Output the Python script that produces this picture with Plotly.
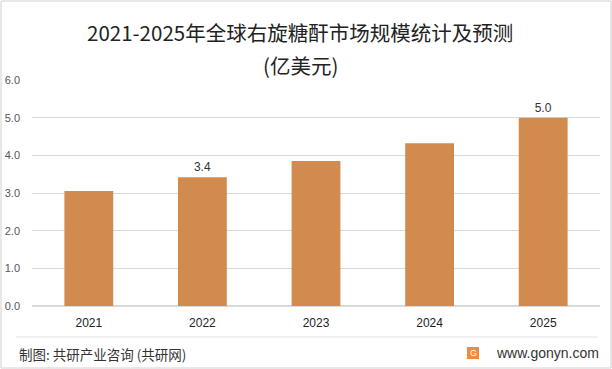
import plotly.graph_objects as go

years = ["2021", "2022", "2023", "2024", "2025"]
values = [3.05, 3.42, 3.85, 4.32, 5.0]
label_years = ["2022", "2025"]
y_ticks = [0, 1, 2, 3, 4, 5, 6]
y_tick_text = ["0.0", "1.0", "2.0", "3.0", "4.0", "5.0", "6.0"]

W, H = 612, 369
ML, MR, MT, MB = 32, 12, 80, 63
FONT = "Noto Sans CJK SC, Noto Sans, sans-serif"

texts = [f"{v:.1f}" if y in label_years else "" for y, v in zip(years, values)]

fig = go.Figure(go.Bar(
    x=years, y=values, marker=dict(color="#D28B4E", line=dict(width=0)),
    text=texts, textposition="outside", cliponaxis=False,
    textfont=dict(size=12, color="#333333", family="Liberation Sans, Arial"),
    width=0.43,
))

def px_x(p):
    return (p - ML) / (W - ML - MR)

def px_y(p):
    return (H - MB - p) / (H - MT - MB)

shapes = [
    dict(type="rect", xref="paper", yref="paper", x0=px_x(1), x1=px_x(W - 1), y0=px_y(H - 1), y1=px_y(1),
         line=dict(color="#d0d0d0", width=1), fillcolor="rgba(0,0,0,0)", layer="below"),
    dict(type="line", xref="paper", yref="paper", x0=px_x(16), x1=px_x(598), y0=px_y(337), y1=px_y(337),
         line=dict(color="#e3e3e3", width=1)),
    dict(type="rect", xref="paper", yref="paper", x0=px_x(467), x1=px_x(479), y0=px_y(359), y1=px_y(347),
         line=dict(width=0), fillcolor="#F08A3C"),
]

annotations = [
    dict(text="2021-2025年全球右旋糖酐市场规模统计及预测", xref="paper", yref="paper",
         x=px_x(300), y=px_y(32), showarrow=False, font=dict(size=20.5, color="#222222", family=FONT),
         xanchor="center", yanchor="middle"),
    dict(text="(亿美元)", xref="paper", yref="paper",
         x=px_x(300), y=px_y(65), showarrow=False, font=dict(size=20.5, color="#222222", family=FONT),
         xanchor="center", yanchor="middle"),
    dict(text="制图: 共研产业咨询 (共研网)", xref="paper", yref="paper",
         x=px_x(17), y=px_y(354), showarrow=False, font=dict(size=13.5, color="#333333", family=FONT),
         xanchor="left", yanchor="middle"),
    dict(text="G", xref="paper", yref="paper",
         x=px_x(473), y=px_y(353), showarrow=False, font=dict(size=9, color="white", family="Liberation Sans"),
         xanchor="center", yanchor="middle"),
    dict(text="www.gonyn.com", xref="paper", yref="paper",
         x=px_x(601), y=px_y(353), showarrow=False, font=dict(size=14, color="#333333", family="Liberation Sans, Arial"),
         xanchor="right", yanchor="middle"),
]

fig.update_layout(
    width=W, height=H, margin=dict(l=ML, r=MR, t=MT, b=MB, autoexpand=False),
    paper_bgcolor="white", plot_bgcolor="white", showlegend=False,
    bargap=0.57, shapes=shapes, annotations=annotations,
    xaxis=dict(type="category", showgrid=False, showline=False, ticks="", automargin=False,
               ticklabelstandoff=8,
               tickfont=dict(size=12, color="#222222", family="Liberation Sans, Arial")),
    yaxis=dict(range=[0, 6], tickvals=y_ticks, ticktext=y_tick_text, showgrid=True, automargin=False,
               gridcolor="#d9d9d9", gridwidth=1, zeroline=True, zerolinecolor="#d9d9d9",
               showline=False, ticks="", ticklabelstandoff=11,
               tickfont=dict(size=11, color="#555555", family="Liberation Sans, Arial")),
)

fig.write_html("out.html", post_script="document.body.style.margin='0';",
               config={"displayModeBar": False})
